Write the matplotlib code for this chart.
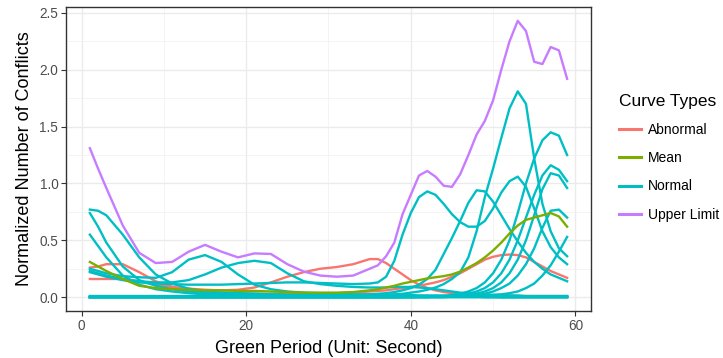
import matplotlib
matplotlib.use('Agg')
import matplotlib.pyplot as plt
from matplotlib.lines import Line2D
from matplotlib.ticker import FormatStrFormatter

plt.rcParams['font.family'] = ['Liberation Sans', 'DejaVu Sans']

# green period grid (seconds) shared by every curve
green_period = [1, 2, 3, 5, 7, 9, 11, 13, 15, 17, 19, 21, 23, 25, 27, 29, 31, 33, 35,
                36, 37, 38, 39, 40, 41, 42, 43, 44, 45, 46, 47, 48, 49, 50, 51, 52, 53,
                54, 55, 56, 57, 58, 59]

# ---- abnormal curves ----
abnormal_1 = [0.26, 0.27, 0.29, 0.29, 0.22, 0.14, 0.09, 0.06, 0.045, 0.04, 0.035, 0.03, 0.03, 0.03, 0.03, 0.03, 0.035, 0.04, 0.05,
              0.055, 0.06, 0.07, 0.08, 0.09, 0.10, 0.115, 0.13, 0.15, 0.18, 0.21, 0.25, 0.29, 0.33, 0.355, 0.37, 0.375, 0.37,
              0.35, 0.31, 0.27, 0.23, 0.20, 0.17]
abnormal_2 = [0.16, 0.16, 0.16, 0.16, 0.14, 0.11, 0.09, 0.075, 0.065, 0.06, 0.065, 0.085, 0.13, 0.18, 0.22, 0.25, 0.265, 0.29, 0.335,
              0.335, 0.30, 0.25, 0.20, 0.15, 0.11, 0.08, 0.06, 0.045, 0.035, 0.03, 0.025, 0.02, 0.02, 0.015, 0.015, 0.015, 0.01,
              0.01, 0.01, 0.01, 0.01, 0.01, 0.01]

# ---- mean curve ----
mean_curve = [0.31, 0.27, 0.23, 0.16, 0.10, 0.08, 0.07, 0.065, 0.06, 0.06, 0.055, 0.055, 0.05, 0.045, 0.04, 0.04, 0.04, 0.045, 0.06,
              0.07, 0.085, 0.10, 0.12, 0.135, 0.15, 0.165, 0.175, 0.185, 0.20, 0.225, 0.26, 0.30, 0.35, 0.41, 0.48, 0.56, 0.63,
              0.68, 0.70, 0.72, 0.74, 0.71, 0.62]

# ---- normal curves ----
normal_0 = [0.0, 0.0, 0.0, 0.0, 0.0, 0.0, 0.0, 0.0, 0.0, 0.0, 0.0, 0.0, 0.0, 0.0, 0.0, 0.0, 0.0, 0.0, 0.0,
            0.0, 0.0, 0.0, 0.0, 0.0, 0.0, 0.0, 0.0, 0.0, 0.0, 0.0, 0.0, 0.0, 0.0, 0.0, 0.0, 0.0, 0.0,
            0.0, 0.0, 0.0, 0.0, 0.0, 0.0]
normal_1 = [0.77, 0.76, 0.72, 0.55, 0.35, 0.20, 0.12, 0.075, 0.05, 0.04, 0.035, 0.03, 0.025, 0.02, 0.02, 0.015, 0.015, 0.01, 0.01,
            0.01, 0.01, 0.01, 0.01, 0.01, 0.01, 0.01, 0.005, 0.005, 0.005, 0.005, 0.005, 0.005, 0.0, 0.0, 0.0, 0.0, 0.0,
            0.0, 0.0, 0.0, 0.0, 0.0, 0.0]
normal_2 = [0.74, 0.62, 0.48, 0.27, 0.15, 0.10, 0.07, 0.05, 0.04, 0.035, 0.03, 0.03, 0.025, 0.02, 0.02, 0.015, 0.015, 0.01, 0.01,
            0.01, 0.01, 0.01, 0.01, 0.01, 0.01, 0.01, 0.01, 0.005, 0.005, 0.005, 0.005, 0.005, 0.005, 0.005, 0.0, 0.0, 0.0,
            0.0, 0.0, 0.0, 0.0, 0.0, 0.0]
normal_3 = [0.55, 0.45, 0.35, 0.19, 0.11, 0.07, 0.05, 0.035, 0.025, 0.02, 0.015, 0.01, 0.01, 0.01, 0.005, 0.005, 0.005, 0.005, 0.005,
            0.005, 0.005, 0.005, 0.005, 0.0, 0.0, 0.0, 0.0, 0.0, 0.0, 0.0, 0.0, 0.0, 0.0, 0.0, 0.0, 0.0, 0.0,
            0.0, 0.0, 0.0, 0.0, 0.0, 0.0]
normal_4 = [0.25, 0.23, 0.21, 0.185, 0.175, 0.17, 0.22, 0.33, 0.37, 0.31, 0.20, 0.11, 0.07, 0.05, 0.04, 0.035, 0.03, 0.025, 0.025,
            0.02, 0.02, 0.02, 0.02, 0.02, 0.015, 0.015, 0.015, 0.015, 0.01, 0.01, 0.01, 0.01, 0.01, 0.01, 0.005, 0.005, 0.005,
            0.005, 0.005, 0.005, 0.005, 0.005, 0.005]
normal_5 = [0.23, 0.21, 0.19, 0.16, 0.14, 0.13, 0.13, 0.15, 0.20, 0.26, 0.30, 0.32, 0.30, 0.21, 0.14, 0.115, 0.10, 0.09, 0.085,
            0.085, 0.085, 0.09, 0.09, 0.09, 0.085, 0.08, 0.07, 0.06, 0.05, 0.04, 0.035, 0.03, 0.025, 0.02, 0.02, 0.015, 0.015,
            0.01, 0.01, 0.01, 0.01, 0.01, 0.01]
normal_6 = [0.22, 0.20, 0.18, 0.15, 0.13, 0.12, 0.115, 0.11, 0.11, 0.11, 0.115, 0.12, 0.125, 0.13, 0.13, 0.125, 0.12, 0.115, 0.12,
            0.13, 0.18, 0.32, 0.55, 0.74, 0.88, 0.93, 0.90, 0.82, 0.73, 0.66, 0.62, 0.62, 0.67, 0.78, 0.92, 1.02, 1.06,
            0.97, 0.78, 0.58, 0.44, 0.35, 0.29]
normal_7 = [0.01, 0.01, 0.01, 0.01, 0.01, 0.01, 0.01, 0.01, 0.01, 0.01, 0.01, 0.01, 0.01, 0.01, 0.015, 0.015, 0.015, 0.02, 0.025,
            0.03, 0.035, 0.045, 0.06, 0.08, 0.11, 0.16, 0.24, 0.38, 0.52, 0.67, 0.83, 0.94, 0.93, 0.84, 0.72, 0.60, 0.49,
            0.39, 0.31, 0.25, 0.20, 0.17, 0.14]
normal_8 = [0.005, 0.005, 0.005, 0.005, 0.005, 0.005, 0.005, 0.005, 0.005, 0.005, 0.005, 0.005, 0.005, 0.005, 0.005, 0.01, 0.01, 0.01, 0.01,
            0.015, 0.02, 0.025, 0.03, 0.04, 0.05, 0.065, 0.085, 0.115, 0.16, 0.22, 0.35, 0.58, 0.88, 1.13, 1.40, 1.66, 1.81,
            1.70, 1.22, 0.82, 0.58, 0.43, 0.36]
normal_9 = [0.0, 0.0, 0.0, 0.0, 0.0, 0.0, 0.0, 0.0, 0.0, 0.0, 0.0, 0.0, 0.0, 0.0, 0.0, 0.0, 0.0, 0.0, 0.0,
            0.0, 0.0, 0.0, 0.005, 0.005, 0.005, 0.005, 0.01, 0.01, 0.02, 0.03, 0.05, 0.08, 0.13, 0.21, 0.33, 0.50, 0.74,
            1.00, 1.22, 1.38, 1.45, 1.42, 1.25]
normal_10 = [0.0, 0.0, 0.0, 0.0, 0.0, 0.0, 0.0, 0.0, 0.0, 0.0, 0.0, 0.0, 0.0, 0.0, 0.0, 0.0, 0.0, 0.0, 0.0,
             0.0, 0.0, 0.0, 0.0, 0.005, 0.005, 0.005, 0.005, 0.01, 0.01, 0.02, 0.03, 0.05, 0.08, 0.13, 0.21, 0.33, 0.50,
             0.70, 0.90, 1.07, 1.16, 1.12, 1.02]
normal_11 = [0.0, 0.0, 0.0, 0.0, 0.0, 0.0, 0.0, 0.0, 0.0, 0.0, 0.0, 0.0, 0.0, 0.0, 0.0, 0.0, 0.0, 0.0, 0.0,
             0.0, 0.0, 0.0, 0.0, 0.0, 0.005, 0.005, 0.005, 0.005, 0.01, 0.01, 0.02, 0.03, 0.05, 0.08, 0.13, 0.21, 0.33,
             0.50, 0.72, 0.95, 1.09, 1.07, 0.96]
normal_12 = [0.0, 0.0, 0.0, 0.0, 0.0, 0.0, 0.0, 0.0, 0.0, 0.0, 0.0, 0.0, 0.0, 0.0, 0.0, 0.0, 0.0, 0.0, 0.0,
             0.0, 0.0, 0.0, 0.0, 0.0, 0.0, 0.0, 0.005, 0.005, 0.005, 0.01, 0.015, 0.02, 0.03, 0.05, 0.08, 0.12, 0.19,
             0.29, 0.43, 0.61, 0.76, 0.77, 0.70]
normal_13 = [0.0, 0.0, 0.0, 0.0, 0.0, 0.0, 0.0, 0.0, 0.0, 0.0, 0.0, 0.0, 0.0, 0.0, 0.0, 0.0, 0.0, 0.0, 0.0,
             0.0, 0.0, 0.0, 0.0, 0.0, 0.0, 0.0, 0.0, 0.0, 0.005, 0.005, 0.01, 0.01, 0.015, 0.02, 0.025, 0.035, 0.05,
             0.08, 0.12, 0.19, 0.28, 0.40, 0.53]

# ---- upper limit ----
upper_limit = [1.31, 1.13, 0.96, 0.63, 0.39, 0.30, 0.31, 0.40, 0.46, 0.40, 0.35, 0.385, 0.38, 0.29, 0.225, 0.19, 0.18, 0.19, 0.25,
               0.28, 0.36, 0.48, 0.73, 0.90, 1.07, 1.11, 1.06, 0.98, 0.97, 1.08, 1.25, 1.43, 1.55, 1.73, 2.00, 2.25, 2.43,
               2.34, 2.07, 2.05, 2.20, 2.17, 1.92]

abnormal_curves = [abnormal_1, abnormal_2]
normal_curves = [normal_1, normal_2, normal_3, normal_4, normal_5, normal_6, normal_7,
                 normal_8, normal_9, normal_10, normal_11, normal_12, normal_13, normal_0]

curve_types = ['Abnormal', 'Mean', 'Normal', 'Upper Limit']
colors = {'Abnormal': '#F8766D', 'Mean': '#7CAE00', 'Normal': '#00BFC4', 'Upper Limit': '#C77CFF'}

fig, ax = plt.subplots(figsize=(7.23, 3.58), dpi=100)
fig.subplots_adjust(left=0.0913, right=0.8174, bottom=0.1313, top=0.9804)

lw = 1.7
for ys in abnormal_curves:
    ax.plot(green_period, ys, color=colors['Abnormal'], lw=lw)
for ys in normal_curves:
    ax.plot(green_period, ys, color=colors['Normal'], lw=lw)
ax.plot(green_period, mean_curve, color=colors['Mean'], lw=lw)
ax.plot(green_period, upper_limit, color=colors['Upper Limit'], lw=lw)

ax.set_xlim(-1.9, 61.9)
ax.set_ylim(-0.1215, 2.5515)
ax.set_xticks([0, 20, 40, 60])
ax.set_xticks([10, 30, 50], minor=True)
ax.set_yticks([0, 0.5, 1.0, 1.5, 2.0, 2.5])
ax.set_yticks([0.25, 0.75, 1.25, 1.75, 2.25], minor=True)
ax.yaxis.set_major_formatter(FormatStrFormatter('%.1f'))

ax.grid(which='major', color='#EBEBEB', lw=1.0)
ax.grid(which='minor', color='#F2F2F2', lw=0.6)
ax.set_axisbelow(True)
for s in ax.spines.values():
    s.set_color('#333333')
    s.set_linewidth(1.0)
ax.tick_params(which='major', length=3.5, width=0.8, color='#333333',
               labelcolor='#4D4D4D', labelsize=9.8, pad=2)
ax.tick_params(which='minor', length=0)

ax.set_xlabel('Green Period (Unit: Second)', fontsize=13, labelpad=5)
ax.set_ylabel('Normalized Number of Conflicts', fontsize=13, labelpad=5)

handles = [Line2D([], [], color=colors[t], lw=2.2) for t in curve_types]
ax.legend(handles, curve_types, title='Curve Types', loc='upper left',
          bbox_to_anchor=(619 / 723, 1 - 94 / 358), bbox_transform=fig.transFigure,
          frameon=False, fontsize=10, title_fontsize=12.5, handlelength=1.55,
          handletextpad=0.55, labelspacing=1.02, borderpad=0, borderaxespad=0,
          alignment='left')

plt.savefig('out.png', dpi=100)
